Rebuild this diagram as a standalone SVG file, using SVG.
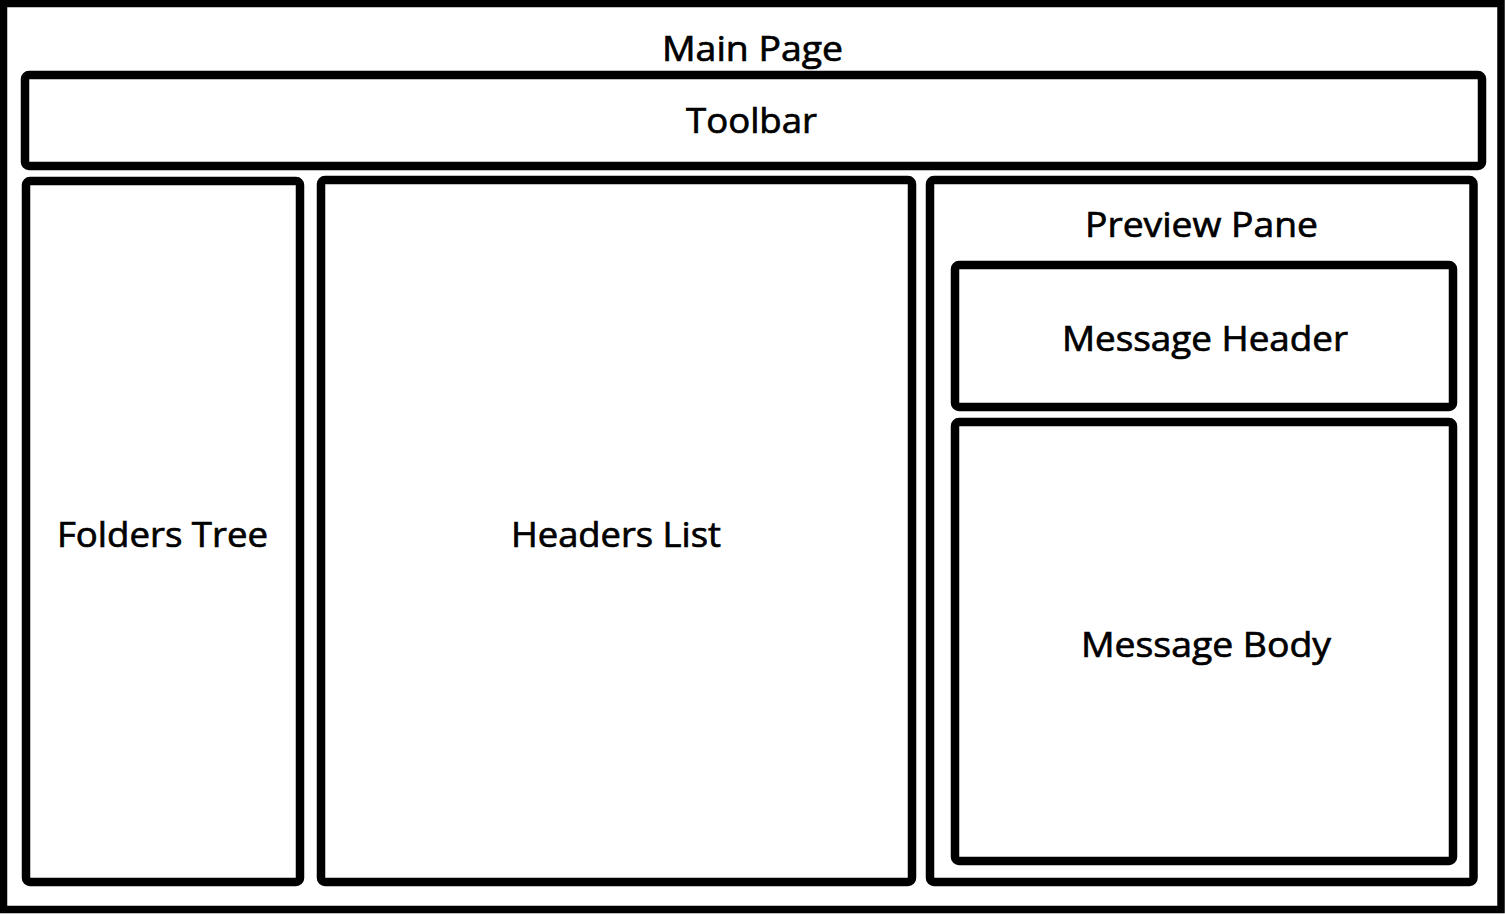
<svg xmlns="http://www.w3.org/2000/svg" width="1505" height="914" viewBox="0 0 1505 914">
<style>
.box{fill:none;stroke:#000;stroke-width:8.5;}
.lbl{font-family:"Open Sans","Noto Sans","Liberation Sans",sans-serif;font-size:35px;fill:#000;stroke:#000;stroke-width:0.7;text-anchor:middle;}
</style>
<rect x="0" y="0" width="1505" height="914" fill="#fff"/>
<g id="main-page">
<rect x="3.5" y="3.5" width="1497.5" height="906" fill="none" stroke="#000" stroke-width="7.5"/>
<text class="lbl" x="752.5" y="61" textLength="181" lengthAdjust="spacingAndGlyphs">Main Page</text>
</g>
<g id="toolbar">
<rect class="box" x="25" y="75" width="1457" height="91" rx="4"/>
<text class="lbl" x="751.5" y="133" textLength="131" lengthAdjust="spacingAndGlyphs">Toolbar</text>
</g>
<g id="folders-tree">
<rect class="box" x="26" y="181" width="274" height="701" rx="4"/>
<text class="lbl" x="162.5" y="547" textLength="211" lengthAdjust="spacingAndGlyphs">Folders Tree</text>
</g>
<g id="headers-list">
<rect class="box" x="321" y="180" width="591" height="702" rx="4"/>
<text class="lbl" x="616" y="547" textLength="210" lengthAdjust="spacingAndGlyphs">Headers List</text>
</g>
<g id="preview-pane">
<rect class="box" x="930" y="180" width="543.5" height="702" rx="4"/>
<text class="lbl" x="1201.5" y="237" textLength="233" lengthAdjust="spacingAndGlyphs">Preview Pane</text>
</g>
<g id="message-header">
<rect class="box" x="955" y="265" width="498" height="142" rx="4"/>
<text class="lbl" x="1205" y="351" textLength="286" lengthAdjust="spacingAndGlyphs">Message Header</text>
</g>
<g id="message-body">
<rect class="box" x="955" y="422" width="498" height="439" rx="4"/>
<text class="lbl" x="1206" y="657" textLength="250" lengthAdjust="spacingAndGlyphs">Message Body</text>
</g>
<g id="connectors"></g>
</svg>
